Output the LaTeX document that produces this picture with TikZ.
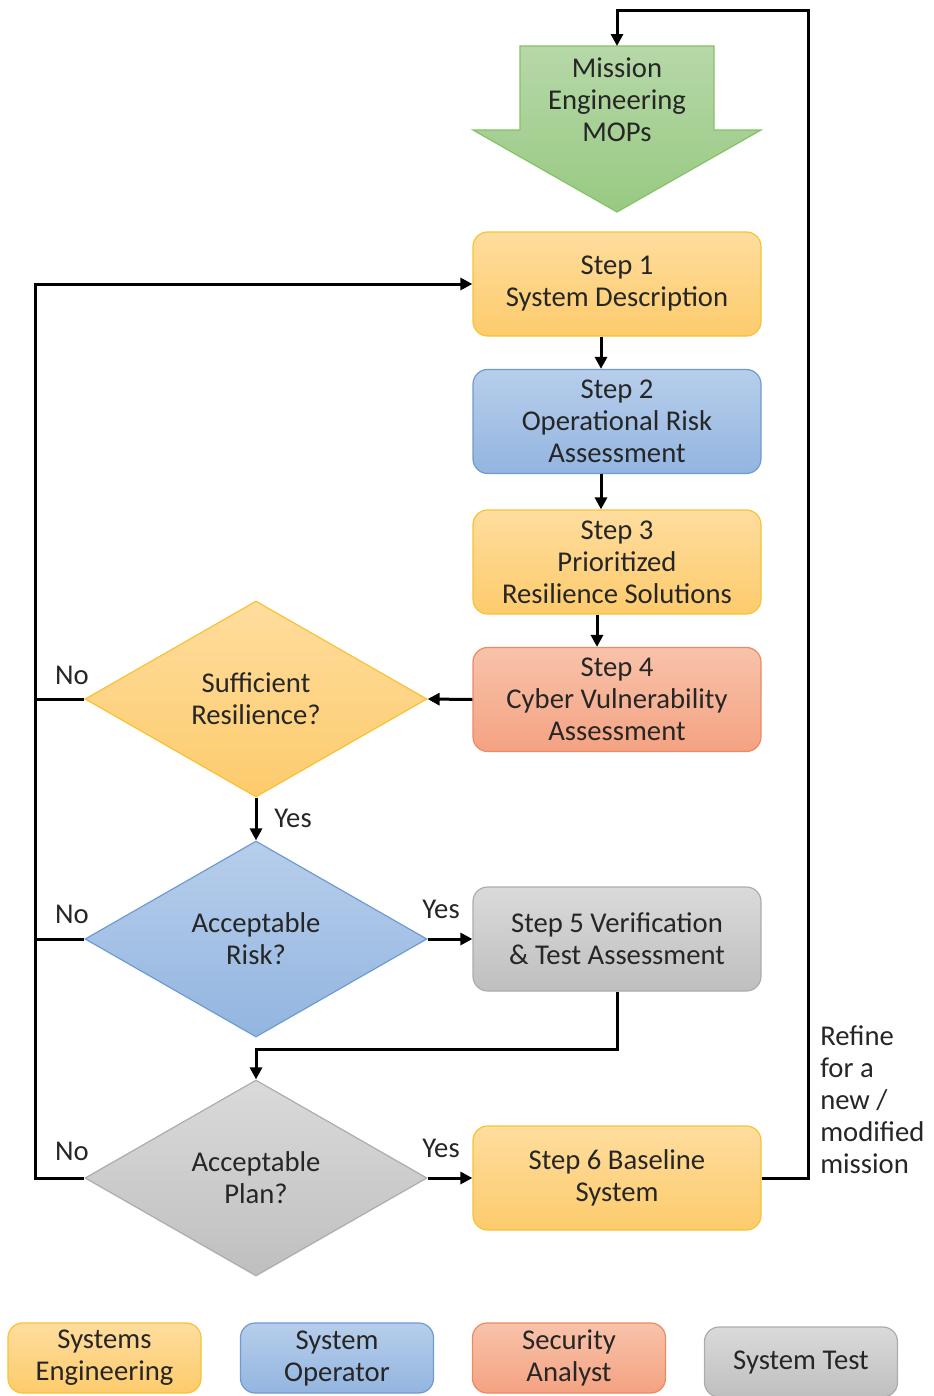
\documentclass[tikz,border=0pt]{standalone}
\usepackage{fontspec}
\setmainfont{Carlito}
\usetikzlibrary{shapes.geometric,arrows.meta}

% fills and outlines for the four roles and the mission arrow
\definecolor{txt}{HTML}{262626}
\definecolor{yelTop}{HTML}{FEDD9E}
\definecolor{yelBot}{HTML}{FDCB6C}
\definecolor{yelLine}{HTML}{F8C232}
\definecolor{bluTop}{HTML}{B7CEEB}
\definecolor{bluBot}{HTML}{93B5E0}
\definecolor{bluLine}{HTML}{6E9BD2}
\definecolor{salTop}{HTML}{F8C3AA}
\definecolor{salBot}{HTML}{F4A282}
\definecolor{salLine}{HTML}{EC8A62}
\definecolor{grayTop}{HTML}{DADADA}
\definecolor{grayBot}{HTML}{BFBFBF}
\definecolor{grayLine}{HTML}{ACACAC}
\definecolor{grnTop}{HTML}{B6D8A8}
\definecolor{grnBot}{HTML}{98C982}
\definecolor{grnLine}{HTML}{86C266}

\tikzset{
  lbl/.style={font=\fontsize{21.5pt}{24pt}\selectfont, text=txt, align=center},
  stepbox/.style={lbl, rectangle, rounded corners=11pt, line width=0.9pt,
    minimum width=216pt, minimum height=78pt, inner sep=0pt},
  legbox/.style={lbl, rectangle, rounded corners=11pt, line width=0.9pt,
    minimum width=144.75pt, minimum height=52.5pt, inner sep=0pt},
  decision/.style={lbl, diamond, aspect=1.745, line width=0.9pt,
    minimum width=256.5pt, minimum height=147pt, inner sep=0pt},
  yel/.style={top color=yelTop, bottom color=yelBot, draw=yelLine},
  blu/.style={top color=bluTop, bottom color=bluBot, draw=bluLine},
  sal/.style={top color=salTop, bottom color=salBot, draw=salLine},
  gry/.style={top color=grayTop, bottom color=grayBot, draw=grayLine},
  conn/.style={line width=2.25pt, black},
  arr/.style={conn, -{Triangle[length=9pt,width=9pt]}},
  tag/.style={font=\fontsize{21.5pt}{24pt}\selectfont, text=txt, inner sep=0pt},
}

\begin{document}
\begin{tikzpicture}[x=0.75pt,y=-0.75pt]
\useasboundingbox (0,0) rectangle (933,1396);

% mission engineering arrow
\path[top color=grnTop, bottom color=grnBot, draw=grnLine, line width=0.9pt]
  (520,46) -- (714,46) -- (714,130) -- (761,130) -- (617,212)
  -- (473,130) -- (520,130) -- cycle;
\node[lbl] (mission) at (617,100) {Mission\\Engineering\\MOPs};
\coordinate (mtop) at (617,46);

% process steps
\node[stepbox, yel] (s1) at (617,284)   {Step 1\\System Description};
\node[stepbox, blu] (s2) at (617,421.5) {Step 2\\Operational Risk\\Assessment};
\node[stepbox, yel] (s3) at (617,562)   {Step 3\\Prioritized\\Resilience Solutions};
\node[stepbox, sal] (s4) at (617,699.5) {Step 4\\Cyber Vulnerability\\Assessment};
\node[stepbox, gry] (s5) at (617,939)   {Step 5 Verification\\\& Test Assessment};
\node[stepbox, yel] (s6) at (617,1178)  {Step 6 Baseline\\System};

% decisions
\node[decision, yel] (d1) at (256,699)  {Sufficient\\Resilience?};
\node[decision, blu] (d2) at (256,939)  {Acceptable\\Risk?};
\node[decision, gry] (d3) at (256,1178) {Acceptable\\Plan?};

% routing points
\coordinate (rail) at (35,1178);
\coordinate (ret)  at (808,10);
\coordinate (jn)   at (256,1049);

% main flow
\draw[arr] ([xshift=-12pt]s1.south) -- ([xshift=-12pt]s2.north);
\draw[arr] ([xshift=-12pt]s2.south) -- ([xshift=-12pt]s3.north);
\draw[arr] ([xshift=-15pt]s3.south) -- ([xshift=-15pt]s4.north);
\draw[arr] (s4.west) -- (d1.east);
\draw[arr] (d1.south) -- (d2.north);
\draw[arr] (d2.east) -- (s5.west);
\draw[arr] (s5.south) |- (jn) -- (d3.north);
\draw[arr] (d3.east) -- (s6.west);

% "No" branches back to step 1
\draw[conn] (d1.west) -- (d1.west -| rail);
\draw[conn] (d2.west) -- (d2.west -| rail);
\draw[arr] (d3.west) -- (rail) |- (s1.west);

% loop back to mission engineering
\draw[arr] (s6.east) -| (ret) -| (mtop);

% branch labels
\node[tag] (no1)  at (72,675)  {No};
\node[tag] (no2)  at (72,914)  {No};
\node[tag] (no3)  at (72,1151) {No};
\node[tag] (yes1) at (293,818) {Yes};
\node[tag] (yes2) at (441,909) {Yes};
\node[tag] (yes3) at (441,1148) {Yes};
\node[tag, anchor=west, align=left, font=\fontsize{21.5pt}{24pt}\selectfont]
  (refine) at (820,1100) {Refine\\for a\\new /\\modified\\mission};

% legend
\node[legbox, yel] (lg1) at (104.5,1358) {Systems\\Engineering};
\node[legbox, blu] (lg2) at (337,1358)   {System\\Operator};
\node[legbox, sal] (lg3) at (569,1358)   {Security\\Analyst};
\node[legbox, gry] (lg4) at (801,1362)   {System Test};
\end{tikzpicture}
\end{document}
